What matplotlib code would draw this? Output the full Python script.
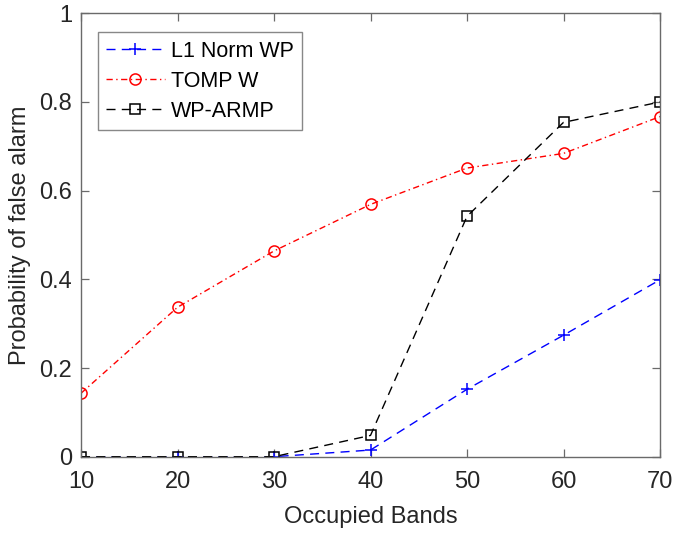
import matplotlib
matplotlib.use("Agg")
import matplotlib.pyplot as plt

bands = [10, 20, 30, 40, 50, 60, 70]
l1_norm_wp = [0.0, 0.0, 0.0, 0.015, 0.152, 0.274, 0.399]
tomp_w = [0.143, 0.337, 0.464, 0.569, 0.651, 0.684, 0.767]
wp_armp = [0.0, 0.0, 0.0, 0.048, 0.542, 0.754, 0.800]
xticks = [10, 20, 30, 40, 50, 60, 70]
yticks = [0, 0.2, 0.4, 0.6, 0.8, 1]
ytick_labels = ["0", "0.2", "0.4", "0.6", "0.8", "1"]

plt.rcParams['font.family'] = ['Liberation Sans', 'DejaVu Sans']

fig = plt.figure(figsize=(6.74, 5.33), dpi=100)
W, H = 674, 533
left, right, top, bottom = 81, 660, 13.3, 456.7
ax = fig.add_axes([left / W, 1 - bottom / H, (right - left) / W, (bottom - top) / H])

dash = (0, (6.5, 4.5))
dashdot = (0, (4.5, 2.5, 1.0, 2.5))
lw = 1.0
ax.plot(bands, l1_norm_wp, linestyle=dash, color='#0000ff', marker='+',
        markersize=9, markeredgewidth=1.1, linewidth=lw, label='L1 Norm WP')
ax.plot(bands, tomp_w, linestyle=dashdot, color='#ff0000', marker='o',
        markersize=8, markerfacecolor='none', markeredgewidth=1.1, linewidth=lw, label='TOMP W')
ax.plot(bands, wp_armp, linestyle=dash, color='black', marker='s',
        markersize=6.5, markerfacecolor='none', markeredgewidth=1.1, linewidth=lw, label='WP-ARMP')

ax.set_xlim(10, 70)
ax.set_ylim(0, 1)
ax.set_xticks(xticks)
ax.set_yticks(yticks)
ax.set_yticklabels(ytick_labels)

axcol = '#262626'
spcol = '#6a6a6a'
for s in ax.spines.values():
    s.set_color(spcol)
    s.set_linewidth(1.0)
ax.tick_params(direction='in', length=6, width=0.9, colors=spcol,
               labelcolor=axcol, labelsize=17, top=True, right=True)
ax.tick_params(axis='x', pad=10.5)
ax.tick_params(axis='y', pad=6.5)

ax.set_xlabel('Occupied Bands', fontsize=17, color=axcol, labelpad=9.5)
ax.set_ylabel('Probability of false alarm', fontsize=17, color=axcol, labelpad=5.5)

leg = ax.legend(loc='upper left', bbox_to_anchor=(0.029, 0.958), fontsize=15.5,
                frameon=True, fancybox=False, borderpad=0.4, handlelength=2.7,
                handletextpad=0.3, labelspacing=0.42, borderaxespad=0)
leg.get_frame().set_edgecolor(spcol)
leg.get_frame().set_linewidth(1.0)
for t in leg.get_texts():
    t.set_color('black')

fig.savefig('out.png', dpi=100)
